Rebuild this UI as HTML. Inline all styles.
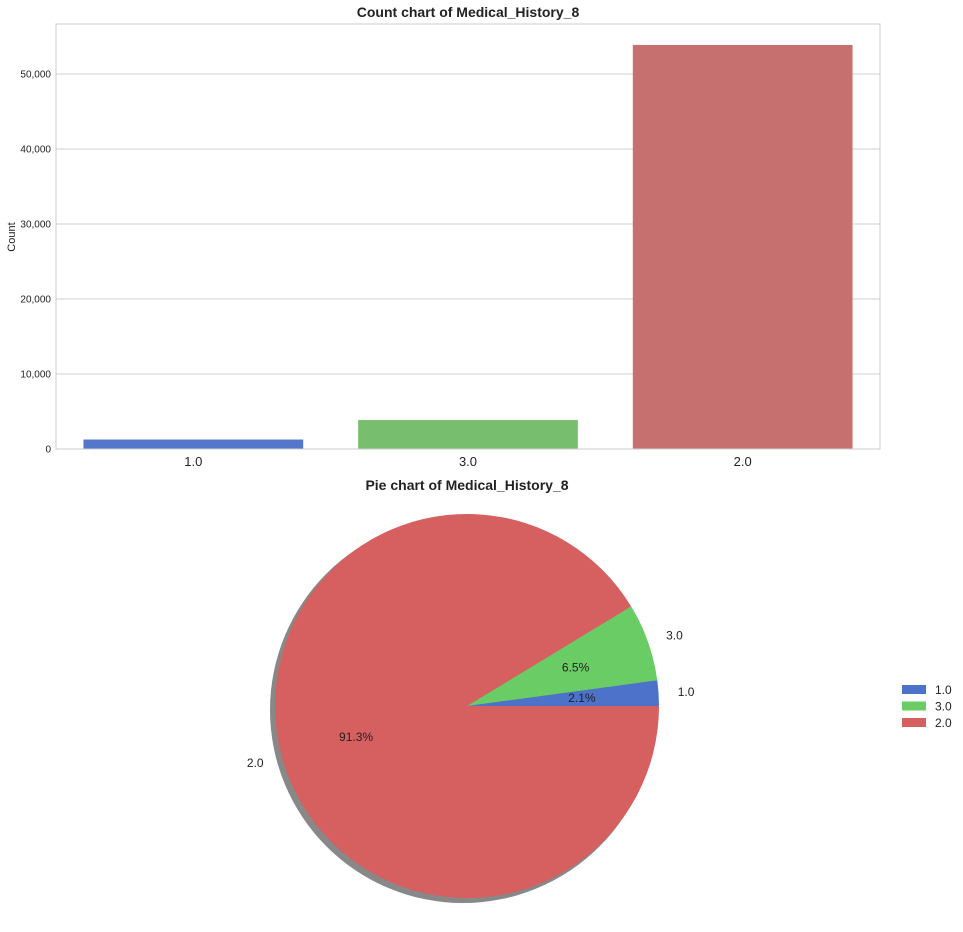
<!DOCTYPE html>
<html><head><meta charset="utf-8"><style>
body{margin:0;background:#fff;font-family:"Liberation Sans",Arial,sans-serif}
</style></head><body>
<svg id="c" width="963" height="927" xmlns="http://www.w3.org/2000/svg" style="font-family:'Liberation Sans',Arial,sans-serif"></svg>
<script>
const categories=["1.0","3.0","2.0"];
const counts=[1265,3860,53875];
const colors=["#4c72c9","#6acc64","#d65f5f"];
const barColors=["#5577c9","#77be6e","#c67070"];
const yTicks=[0,10000,20000,30000,40000,50000];
const yTickLabels=["0","10,000","20,000","30,000","40,000","50,000"];
const NS="http://www.w3.org/2000/svg";
const svg=document.getElementById('c');
function mk(t,a,p){const e=document.createElementNS(NS,t);for(const k in a)e.setAttribute(k,a[k]);(p||svg).appendChild(e);return e;}
const L=56,R=880,T=24,B=449;
const y=v=>B-v*7.5/1000;
const bw=(R-L)/categories.length;
const g1=mk('g',{});
yTicks.forEach((t,i)=>{
 const ln=mk('line',{x1:L,x2:R,y1:y(t),y2:y(t),stroke:'#d0d0d0','stroke-width':1},g1);
 
 const tx=mk('text',{x:L-5,y:y(t)+3.5,'text-anchor':'end','font-size':10,fill:'#222'},g1);tx.textContent=yTickLabels[i];
 
});
categories.forEach((c,i)=>{
 const x0=L+bw*i+bw*0.1;
 const r=mk('rect',{x:x0,y:y(counts[i]),width:bw*0.8,height:B-y(counts[i]),fill:barColors[i]},g1);
 
 const tx=mk('text',{x:L+bw*(i+0.5),y:466,'text-anchor':'middle','font-size':13,fill:'#222'},g1);tx.textContent=c;
 
});
const fr=mk('rect',{x:L,y:T,width:R-L,height:B-T,fill:'none',stroke:'#ccc'},g1);

let t=mk('text',{x:468,y:17,'text-anchor':'middle','font-size':14,'font-weight':'bold',fill:'#222'});t.textContent='Count chart of Medical_History_8';

t=mk('text',{x:15,y:237,'text-anchor':'middle','font-size':11,fill:'#222',transform:'rotate(-90 15 237)'});t.textContent='Count';

const cx=467,cy=706,rad=192;
t=mk('text',{x:467,y:490,'text-anchor':'middle','font-size':14,'font-weight':'bold',fill:'#222'});t.textContent='Pie chart of Medical_History_8';

const sh=mk('circle',{cx:cx-4,cy:cy+4,r:rad+1,fill:'#888'});
const total=counts.reduce((a,b)=>a+b,0);
let a0=0;
categories.forEach((c,i)=>{
 const frac=counts[i]/total,a1=a0+frac*2*Math.PI;
 const p=(a,r)=>[cx+r*Math.cos(a),cy-r*Math.sin(a)];
 const [x0,y0]=p(a0,rad),[x1,y1]=p(a1,rad);
 const s=mk('path',{d:`M${cx},${cy}L${x0},${y0}A${rad},${rad} 0 ${frac>0.5?1:0} 0 ${x1},${y1}Z`,fill:colors[i]});
 
 const am=(a0+a1)/2;
 const [lx,ly]=p(am,rad*1.1);
 let tx=mk('text',{x:lx,y:ly+4,'text-anchor':Math.cos(am)>=0?'start':'end','font-size':12,fill:'#222'});tx.textContent=c;
 
 const [px,py]=p(am,rad*0.6);
 tx=mk('text',{x:px,y:py+4,'text-anchor':'middle','font-size':12,fill:'#222'});tx.textContent=(frac*100).toFixed(1)+'%';
 
 a0=a1;
});
categories.forEach((c,i)=>{
 const r=mk('rect',{x:902,y:685+i*16.5,width:24,height:9,fill:colors[i]});
 
 const tx=mk('text',{x:935,y:694+i*16.5,'font-size':12,fill:'#222'});tx.textContent=c;
 
});
</script>
</body></html>
